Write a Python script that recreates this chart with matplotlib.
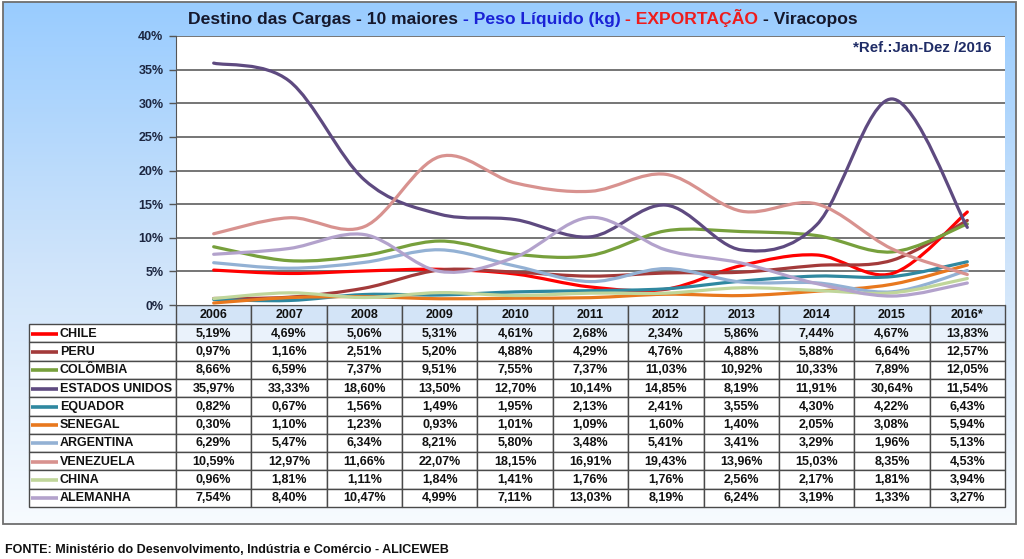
import numpy as np
import matplotlib
matplotlib.use("Agg")
import matplotlib.pyplot as plt
from matplotlib.path import Path
from matplotlib.patches import PathPatch, Rectangle
from matplotlib.offsetbox import TextArea, HPacker, AnchoredOffsetbox
from matplotlib.colors import LinearSegmentedColormap

plt.rcParams['font.family'] = ['Liberation Sans', 'DejaVu Sans']

years = ['2006', '2007', '2008', '2009', '2010', '2011', '2012', '2013', '2014', '2015', '2016*']
countries = ['CHILE', 'PERU', 'COLÔMBIA', 'ESTADOS UNIDOS', 'EQUADOR', 'SENEGAL',
             'ARGENTINA', 'VENEZUELA', 'CHINA', 'ALEMANHA']

chile = [5.19, 4.69, 5.06, 5.31, 4.61, 2.68, 2.34, 5.86, 7.44, 4.67, 13.83]
peru = [0.97, 1.16, 2.51, 5.20, 4.88, 4.29, 4.76, 4.88, 5.88, 6.64, 12.57]
colombia = [8.66, 6.59, 7.37, 9.51, 7.55, 7.37, 11.03, 10.92, 10.33, 7.89, 12.05]
eua = [35.97, 33.33, 18.60, 13.50, 12.70, 10.14, 14.85, 8.19, 11.91, 30.64, 11.54]
equador = [0.82, 0.67, 1.56, 1.49, 1.95, 2.13, 2.41, 3.55, 4.30, 4.22, 6.43]
senegal = [0.30, 1.10, 1.23, 0.93, 1.01, 1.09, 1.60, 1.40, 2.05, 3.08, 5.94]
argentina = [6.29, 5.47, 6.34, 8.21, 5.80, 3.48, 5.41, 3.41, 3.29, 1.96, 5.13]
venezuela = [10.59, 12.97, 11.66, 22.07, 18.15, 16.91, 19.43, 13.96, 15.03, 8.35, 4.53]
china = [0.96, 1.81, 1.11, 1.84, 1.41, 1.76, 1.76, 2.56, 2.17, 1.81, 3.94]
alemanha = [7.54, 8.40, 10.47, 4.99, 7.11, 13.03, 8.19, 6.24, 3.19, 1.33, 3.27]

series = [chile, peru, colombia, eua, equador, senegal, argentina, venezuela, china, alemanha]
colors = ['#ff0000', '#a33a3a', '#77a03c', '#5e4a80', '#2f88a0', '#e8781e',
          '#93b1d4', '#d8928f', '#c0d69a', '#b3a2cc']

W, H = 1024, 559
fig = plt.figure(figsize=(W / 100, H / 100), dpi=100)

# overlay in pixel coordinates for frame, background and table
ov = fig.add_axes([0, 0, 1, 1], zorder=0)
ov.set_xlim(0, W)
ov.set_ylim(H, 0)
ov.axis('off')

grad = LinearSegmentedColormap.from_list('bg', ['#99ccff', '#cfe4fa', '#f7fbff'])
ov.imshow(np.linspace(0, 1, 256).reshape(-1, 1), cmap=grad, aspect='auto',
          extent=(3, 1016, 524, 2), zorder=0)
ov.add_patch(Rectangle((3, 2), 1013, 522, fill=False, ec='#6e6e6e', lw=1.3, zorder=1))

# main plot area
left, right, top, bottom = 176, 1005, 36, 305
ax = fig.add_axes([left / W, 1 - bottom / H, (right - left) / W, (bottom - top) / H], zorder=1)
ax.set_facecolor('white')
ax.set_xlim(-0.5, len(years) - 0.5)
ax.set_ylim(0, 40)
ax.set_yticks(np.arange(0, 41, 5))
ax.set_yticklabels([f'{v}%' for v in range(0, 41, 5)])
ax.set_xticks([])
ax.tick_params(axis='y', length=5, width=1, color='#555555', pad=4,
               labelsize=9, labelcolor='#1c2640')
for lab in ax.get_yticklabels():
    lab.set_fontweight('bold')
for v in range(5, 41, 5):
    ax.axhline(v, color='#5e5e5e', lw=1.2, zorder=1)
for s in ['top', 'right']:
    ax.spines[s].set_visible(False)
ax.spines['left'].set_color('#555555')
ax.spines['bottom'].set_color('#555555')


def smooth_path(xs, ys):
    # Bezier segments like Excel's smoothed line
    pts = np.column_stack([xs, ys]).astype(float)
    n = len(pts)
    verts = [pts[0]]
    codes = [Path.MOVETO]
    for i in range(n - 1):
        p0 = pts[i - 1] if i > 0 else pts[i]
        p1 = pts[i]
        p2 = pts[i + 1]
        p3 = pts[i + 2] if i + 2 < n else pts[i + 1]
        c1 = p1 + (p2 - p0) / 6.0
        c2 = p2 - (p3 - p1) / 6.0
        verts += [c1, c2, p2]
        codes += [Path.CURVE4] * 3
    return Path(verts, codes)


x = np.arange(len(years))
for i, (vals, c) in enumerate(zip(series, colors)):
    patch = PathPatch(smooth_path(x, vals), fill=False, ec=c, lw=2.3,
                      capstyle='round', joinstyle='round', zorder=3 + i)
    ax.add_patch(patch)

ax.text(0.984, 0.955, '*Ref.:Jan-Dez /2016', transform=ax.transAxes, ha='right', va='center',
        fontsize=10.8, fontweight='bold', color='#1f2c66')

# title with coloured parts
tp = dict(fontsize=12.6, fontweight='bold')
parts = [('Destino das Cargas - 10 maiores', '#15182c'),
         ('- Peso Líquido (kg)', '#1a22d6'),
         ('- EXPORTAÇÃO', '#ee1c1c'),
         ('- Viracopos', '#15182c')]
boxes = [TextArea(t, textprops=dict(color=c, **tp)) for t, c in parts]
pack = HPacker(children=boxes, align='baseline', pad=0, sep=3.5)
title_box = AnchoredOffsetbox(loc='center', child=pack, frameon=False, pad=0, borderpad=0,
                              bbox_to_anchor=(523 / W, 1 - 18 / H),
                              bbox_transform=fig.transFigure)
fig.add_artist(title_box)

# data table
col_w = (right - left) / len(years)
tab_left = 29
head_top, head_bot = bottom, 324
row_h = (507 - head_bot) / len(countries)
line_c = '#4a4a4a'

for j, yr in enumerate(years):
    x0 = left + j * col_w
    ov.add_patch(Rectangle((x0, head_top), col_w, head_bot - head_top, fc='#d3e4f7',
                           ec=line_c, lw=1, zorder=2))
    ov.text(x0 + col_w / 2, (head_top + head_bot) / 2 + 1, yr, ha='center', va='center',
            fontsize=9, fontweight='bold', color='#111111', zorder=3)

for i, name in enumerate(countries):
    y0 = head_bot + i * row_h
    yc = y0 + row_h / 2 + 0.5
    ov.add_patch(Rectangle((tab_left, y0), left - tab_left, row_h, fc='white',
                           ec=line_c, lw=1, zorder=2))
    ov.plot([31, 58], [yc, yc], color=colors[i], lw=2.6, solid_capstyle='butt', zorder=3)
    ov.text(60, yc, name, ha='left', va='center', fontsize=9, fontweight='bold',
            color='#111111', zorder=3)
    for j in range(len(years)):
        x0 = left + j * col_w
        fc = '#eaf2fb' if i == 0 else 'white'
        ov.add_patch(Rectangle((x0, y0), col_w, row_h, fc=fc, ec=line_c, lw=1, zorder=2))
        txt = f'{series[i][j]:.2f}'.replace('.', ',') + '%'
        ov.text(x0 + col_w / 2, yc, txt, ha='center', va='center', fontsize=9,
                fontweight='bold', color='#111111', zorder=3)

ov.text(5, 550, 'FONTE: Ministério do Desenvolvimento, Indústria e Comércio - ALICEWEB',
        ha='left', va='center', fontsize=9, fontweight='bold', color='#111111')

fig.savefig('out.png', dpi=100)
